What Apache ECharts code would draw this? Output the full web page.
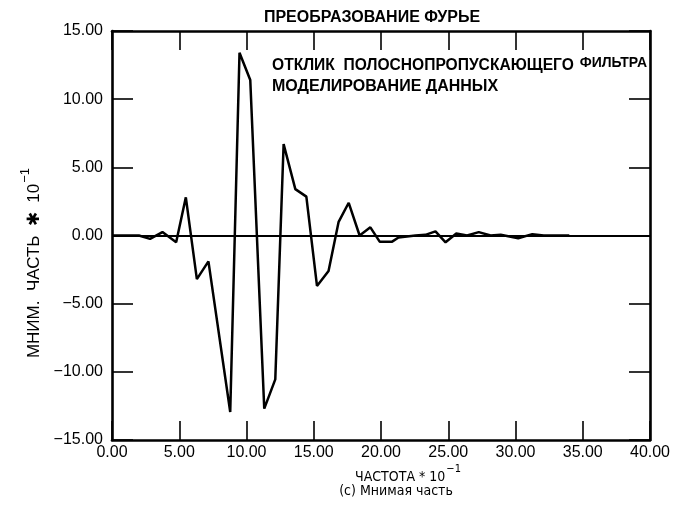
<!DOCTYPE html>
<html>
<head>
<meta charset="utf-8">
<script src="https://cdn.jsdelivr.net/npm/echarts@6/dist/echarts.min.js"></script>
<style>
html,body{margin:0;padding:0;background:#fff;}
#chart{width:677px;height:512px;}
</style>
</head>
<body>
<div id="chart"></div>
<script>
// Frequency (x 10^-1) and imaginary part (x 10^-1)
var frequency = [0.0, 1.2, 2.0, 2.83, 3.75, 4.77, 5.49, 6.31, 7.17, 8.79, 9.48, 10.28, 11.32, 12.14, 12.76, 13.63, 14.45, 15.24, 16.1, 16.85, 17.6, 18.41, 19.21, 19.9, 20.83, 21.3, 22.56, 23.3, 24.05, 24.8, 25.6, 26.4, 27.27, 28.15, 28.9, 30.2, 31.25, 32.1, 33.6, 34.0];
var imagPart  = [0.0, 0.0, 0.0, -0.25, 0.25, -0.5, 2.8, -3.2, -1.9, -12.95, 13.4, 11.4, -12.7, -10.55, 6.7, 3.4, 2.85, -3.7, -2.6, 1.0, 2.4, 0.0, 0.6, -0.45, -0.45, -0.15, 0.0, 0.05, 0.3, -0.5, 0.15, 0.0, 0.25, 0.0, 0.05, -0.2, 0.1, 0.0, 0.0, 0.0];
var xTicks = {min: 0, max: 40, step: 5};
var yTicks = {min: -15, max: 15, step: 5};

var titleText = 'ПРЕОБРАЗОВАНИЕ ФУРЬЕ';
var note1a = 'ОТКЛИК  ПОЛОСНОПРОПУСКАЮЩЕГО';
var note1b = 'ФИЛЬТРА';
var note2 = 'МОДЕЛИРОВАНИЕ ДАННЫХ';
var xNameMain = 'ЧАСТОТА * 10', xNameSup = '−1';
var yNameMain = 'МНИМ.  ЧАСТЬ  ✱  10', yNameSup = '−1';
var caption = '(c) Мнимая часть';

var points = frequency.map(function (f, i) { return [f, imagPart[i]]; });
function fmt(v) { var s = Math.abs(v).toFixed(2); return v < 0 ? '\u2212' + s : s; }

var FONT = '"Liberation Sans", Arial, sans-serif';
var NARROW = '"Liberation Sans Narrow", "DejaVu Sans Condensed", "Liberation Sans", sans-serif';
var axisLine = {show: true, onZero: false, lineStyle: {color: '#000', width: 2.6}};
var tickX = {show: true, inside: true, length: 19, lineStyle: {color: '#000', width: 1.6}};
var tickY = {show: true, inside: true, length: 21, lineStyle: {color: '#000', width: 1.6}};

var chart = echarts.init(document.getElementById('chart'));
chart.setOption({
  backgroundColor: '#fff',
  animation: false,
  grid: {left: 112, right: 27, top: 31, bottom: 72},
  xAxis: [{
    type: 'value', min: xTicks.min, max: xTicks.max, interval: xTicks.step,
    position: 'bottom', axisLine: axisLine, axisTick: tickX, splitLine: {show: false},
    axisLabel: {formatter: fmt, fontFamily: FONT, fontSize: 16, color: '#000', margin: 5}
  }, {
    type: 'value', min: xTicks.min, max: xTicks.max, interval: xTicks.step,
    position: 'top', axisLine: axisLine, axisTick: tickX, splitLine: {show: false},
    axisLabel: {show: false}
  }],
  yAxis: [{
    type: 'value', min: yTicks.min, max: yTicks.max, interval: yTicks.step,
    position: 'left', axisLine: axisLine, axisTick: tickY, splitLine: {show: false},
    axisLabel: {formatter: fmt, fontFamily: FONT, fontSize: 16, color: '#000', margin: 9}
  }, {
    type: 'value', min: yTicks.min, max: yTicks.max, interval: yTicks.step,
    position: 'right', axisLine: axisLine, axisTick: tickY, splitLine: {show: false},
    axisLabel: {show: false}
  }],
  series: [{
    type: 'line', data: points, showSymbol: false, symbol: 'none',
    lineStyle: {color: '#000', width: 2.5}, z: 3,
    markLine: {
      silent: true, symbol: 'none', label: {show: false},
      lineStyle: {color: '#000', width: 1.8, type: 'solid'},
      data: [{yAxis: 0}]
    }
  }],
  graphic: [
    {type: 'text', x: 372, y: 18, style: {text: titleText, font: 'bold 16px ' + FONT, fill: '#000', textAlign: 'center', textVerticalAlign: 'middle'}},
    {type: 'text', x: 272, y: 66, style: {text: note1a, font: 'bold 15.6px ' + FONT, fill: '#000', textVerticalAlign: 'middle'}},
    {type: 'text', x: 647, y: 63, style: {text: note1b, font: 'bold 14px ' + FONT, fill: '#000', textAlign: 'right', textVerticalAlign: 'middle'}},
    {type: 'text', x: 272, y: 87, style: {text: note2, font: 'bold 16px ' + FONT, fill: '#000', textVerticalAlign: 'middle'}},
    {type: 'text', x: 31, y: 263, rotation: Math.PI / 2,
      style: {
        text: '{m|' + yNameMain + '}{s|' + yNameSup + '}',
        textAlign: 'center', textVerticalAlign: 'middle', fill: '#000',
        rich: {
          m: {fontFamily: FONT, fontSize: 17, color: '#000', lineHeight: 24, verticalAlign: 'bottom'},
          s: {fontFamily: FONT, fontSize: 13, color: '#000', lineHeight: 24, verticalAlign: 'top', padding: [0, 0, 8, 1]}
        }
      }},
    {type: 'text', x: 408, y: 474,
      style: {
        text: '{m|' + xNameMain + '}{s|' + xNameSup + '}',
        textAlign: 'center', textVerticalAlign: 'middle', fill: '#000',
        rich: {
          m: {fontFamily: NARROW, fontSize: 14, color: '#000', lineHeight: 20, verticalAlign: 'bottom'},
          s: {fontFamily: NARROW, fontSize: 11, color: '#000', lineHeight: 20, verticalAlign: 'top', padding: [0, 0, 6, 1]}
        }
      }},
    {type: 'text', x: 396, y: 491, style: {text: caption, font: '14px ' + NARROW, fill: '#000', textAlign: 'center', textVerticalAlign: 'middle'}}
  ]
});
</script>
</body>
</html>
